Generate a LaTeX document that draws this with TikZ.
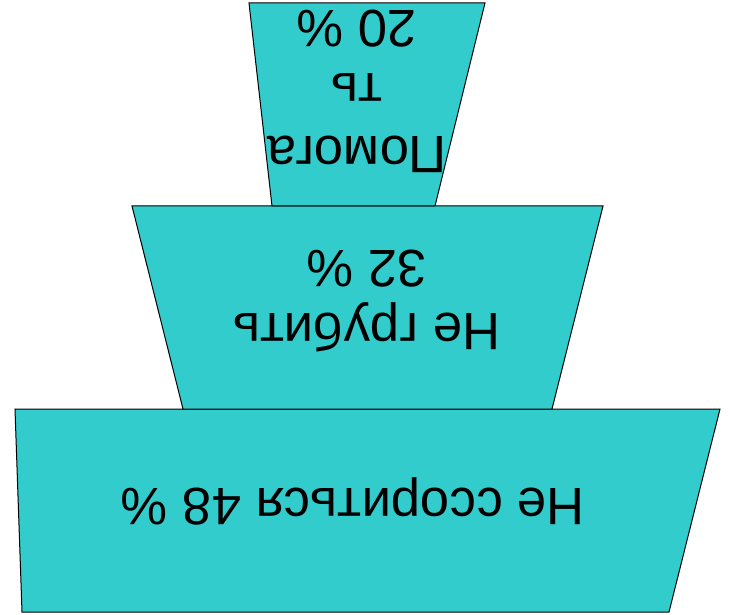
\documentclass[tikz,border=0pt]{standalone}
\usepackage{fontspec}
\setmainfont{Liberation Sans}
\definecolor{tierfill}{RGB}{51,204,204}

\begin{document}
\begin{tikzpicture}[x=1pt,y=1pt,
    tier/.style={fill=tierfill,draw=black,line width=1pt,line join=miter},
    tiertext/.style={rotate=180,align=center,inner sep=0pt,
      font=\fontsize{52.6}{63}\selectfont}]
    \useasboundingbox (0,0) rectangle (730,614);

    % tiers, upside down: wide edge x-range at \h, narrow one at \l
    \foreach \ha/\hb/\h/\la/\lb/\l in {15/720/205/22/669/2,
                                      132/603/408/183/552/205,
                                      249/485/611/272/435/408}
      \filldraw[tier] (\ha,\h) -- (\hb,\h) -- (\lb,\l) -- (\la,\l) -- cycle;

    \node[tiertext] (help) at (357,523) {Помога\\ть\\20 \%};
    \node[tiertext] (rude) at (366.5,313) {Не грубить\\32 \%};
    \node[tiertext,anchor=base] (quarrel) at (353,126) {Не ссориться 48 \%};
\end{tikzpicture}
\end{document}
